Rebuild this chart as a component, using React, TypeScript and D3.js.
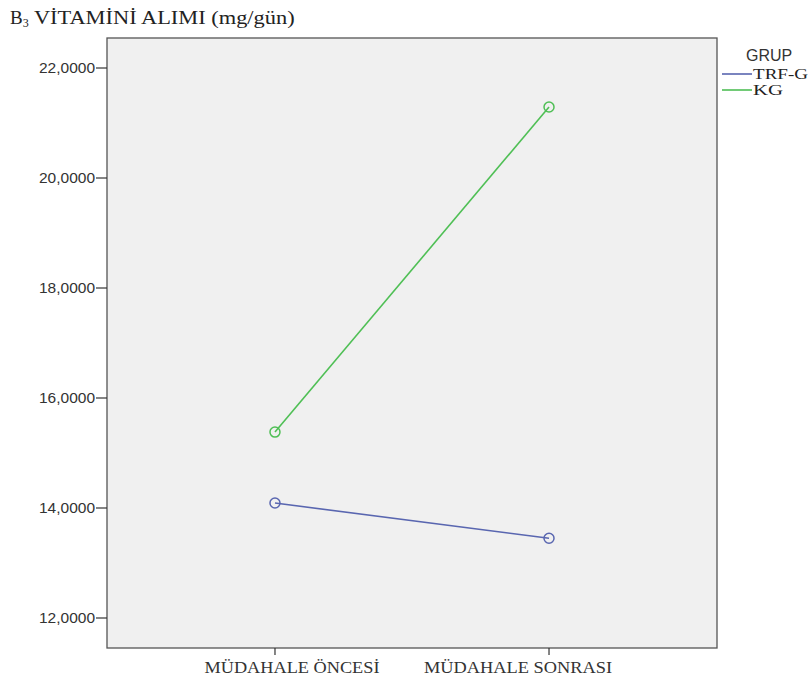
import React from "react";
import * as d3 from "d3";

const categories = ["MÜDAHALE ÖNCESİ", "MÜDAHALE SONRASI"];
const trfG = [14.09, 13.45];
const kg = [15.38, 21.29];
const yTicks = [12, 14, 16, 18, 20, 22];
const seriesNames = ["TRF-G", "KG"];
const seriesColors = ["#5966b0", "#4fbf55"];

const W = 810;
const H = 684;
const plot = { left: 107, right: 717, top: 38, bottom: 648 };
const serif = "Liberation Serif, Times New Roman, serif";
const sans = "Liberation Sans, Arial, sans-serif";

export default function App() {
  const x = d3
    .scalePoint<string>()
    .domain(categories)
    .range([plot.left, plot.right])
    .padding(0.613);
  const y = d3
    .scaleLinear()
    .domain([11.4545, 22.5455])
    .range([plot.bottom, plot.top]);

  const line = d3
    .line<number>()
    .x((_, i) => x(categories[i]) as number)
    .y((d) => y(d));

  const fmt = (v: number) => v.toFixed(4).replace(".", ",");
  const series = [trfG, kg];
  // label widths and horizontal shifts of the category labels
  const catWidths = [175, 188];
  const catShift = [17, -31];

  return (
    <svg
      width={W}
      height={H}
      style={{ position: "absolute", left: 0, top: 0, background: "#fff" }}
    >
      <text x={10} y={24} fontFamily={serif} fontSize={19} fill="#222">
        B<tspan fontSize={12} dy={3}>3</tspan>
        <tspan dy={-3} textLength={266} lengthAdjust="spacingAndGlyphs">
          {" "}VİTAMİNİ ALIMI (mg/gün)
        </tspan>
      </text>

      <rect
        x={plot.left}
        y={plot.top}
        width={plot.right - plot.left}
        height={plot.bottom - plot.top}
        fill="#f0f0f0"
        stroke="#555"
        strokeWidth={1.3}
      />

      {yTicks.map((t) => (
        <g key={t}>
          <line x1={plot.left - 11} x2={plot.left} y1={y(t)} y2={y(t)} stroke="#333" strokeWidth={1.2} />
          <text
            x={plot.left - 12}
            y={y(t)}
            dy="0.35em"
            textAnchor="end"
            fontFamily={sans}
            fontSize={15.5}
            fill="#333"
          >
            {fmt(t)}
          </text>
        </g>
      ))}

      {categories.map((c, i) => (
        <g key={c}>
          <line x1={x(c)} x2={x(c)} y1={plot.bottom} y2={plot.bottom + 7} stroke="#333" strokeWidth={1.2} />
          <text
            x={(x(c) as number) + catShift[i]}
            y={plot.bottom + 25}
            textAnchor="middle"
            fontFamily={serif}
            fontSize={17}
            fill="#333"
            textLength={catWidths[i]}
            lengthAdjust="spacingAndGlyphs"
          >
            {c}
          </text>
        </g>
      ))}

      {series.map((s, si) => (
        <g key={si}>
          <path d={line(s) || ""} fill="none" stroke={seriesColors[si]} strokeWidth={1.6} />
          {s.map((v, i) => (
            <circle
              key={i}
              cx={x(categories[i])}
              cy={y(v)}
              r={5}
              fill="none"
              stroke={seriesColors[si]}
              strokeWidth={1.5}
            />
          ))}
        </g>
      ))}

      <text x={746} y={61} fontFamily={sans} fontSize={16} fill="#333">
        GRUP
      </text>
      {seriesNames.map((n, i) => (
        <g key={n}>
          <line x1={722} x2={752} y1={74 + i * 16} y2={74 + i * 16} stroke={seriesColors[i]} strokeWidth={1.6} />
          <text
            x={753}
            y={74 + i * 16}
            dy="0.35em"
            fontFamily={serif}
            fontSize={15}
            fill="#222"
            textLength={i === 0 ? 55 : 30}
            lengthAdjust="spacingAndGlyphs"
          >
            {n}
          </text>
        </g>
      ))}
    </svg>
  );
}
